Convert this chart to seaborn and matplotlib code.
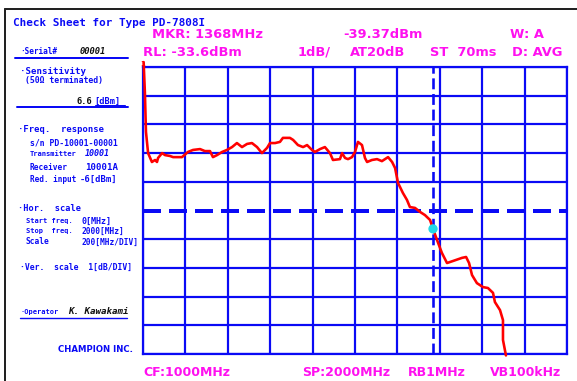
import numpy as np
import matplotlib
matplotlib.use("Agg")
import matplotlib.pyplot as plt
from matplotlib.lines import Line2D
import seaborn as sns

# ---------------- data ----------------
freq_mhz = [3, 9, 14, 24, 42, 57, 66, 71, 90, 104, 127, 142, 165, 184, 212, 236, 269,
            292, 316, 330, 349, 373, 396, 420, 443, 467, 491, 514, 538, 561, 585, 599,
            623, 646, 660, 693, 708, 731, 755, 774, 797, 811, 835, 858, 882, 896, 929,
            939, 953, 967, 986, 1000, 1014, 1033, 1047, 1057, 1080, 1104, 1127, 1156,
            1175, 1189, 1203, 1226, 1245, 1259, 1283, 1307, 1330, 1354, 1368, 1392,
            1410, 1434, 1462, 1505, 1524, 1538, 1552, 1575, 1604, 1627, 1651, 1660,
            1684, 1698, 1698, 1712]
level_dbm = [-33.43, -34.5, -35.86, -36.60, -36.91, -36.84, -36.91, -36.77, -36.60, -36.67,
             -36.70, -36.74, -36.74, -36.74, -36.56, -36.49, -36.46, -36.53, -36.53, -36.74,
             -36.67, -36.56, -36.49, -36.39, -36.25, -36.39, -36.28, -36.25, -36.39, -36.60,
             -36.42, -36.25, -36.25, -36.21, -36.07, -36.07, -36.14, -36.32, -36.39, -36.32,
             -36.49, -36.56, -36.46, -36.39, -36.60, -36.84, -36.81, -36.60, -36.77, -36.81,
             -36.74, -36.56, -36.21, -36.32, -36.77, -36.91, -36.84, -36.81, -36.88, -36.74,
             -36.91, -37.12, -37.64, -37.99, -38.23, -38.48, -38.51, -38.65, -38.76, -38.93,
             -39.24, -39.73, -40.08, -40.43, -40.36, -40.25, -40.22, -40.43, -40.85, -41.13,
             -41.27, -41.30, -41.47, -41.79, -42.07, -42.42, -43.11, -43.65]
marker_freq = [1368]
marker_level = [-39.24]
ref_level = -33.6
db_per_div = 1.0
start_mhz, stop_mhz = 0, 2000

header_top = [("MKR: 1368MHz", 152), ("-39.37dBm", 343), ("W: A", 510)]
header_mid = [("RL: -33.6dBm", 143), ("1dB/", 298), ("AT20dB", 350), ("ST  70ms", 430), ("D: AVG", 512)]
footer = [("CF:1000MHz", 143), ("SP:2000MHz", 302), ("RB1MHz", 408), ("VB100kHz", 490)]

# ---------------- style ----------------
W, H = 577, 381
BLUE = "#0A0AF5"
MAG = "#FF10F0"
sns.set_theme(style="white")
plt.rcParams["font.family"] = ["DejaVu Sans"]

fig = plt.figure(figsize=(W / 100, H / 100), dpi=100)
fig.patch.set_facecolor("white")

def fx(x):
    return x / W

def fy(y):
    return 1 - y / H

ax = fig.add_axes([fx(143), fy(354), fx(567) - fx(143), fy(67) - fy(354)])
ax.set_facecolor("white")
ax.set_xlim(start_mhz, stop_mhz)
ax.set_ylim(ref_level - 10 * db_per_div, ref_level)

px = 0.72  # points per pixel
grid_lw = 2.2 * px
xt = np.linspace(start_mhz, stop_mhz, 11)
yt = [ref_level - i * db_per_div for i in range(11) if i != 5]
ax.set_xticks(xt)
ax.set_yticks(yt)
ax.grid(True, color=BLUE, lw=grid_lw)
ax.tick_params(length=0, labelbottom=False, labelleft=False)
for s in ax.spines.values():
    s.set_color(BLUE)
    s.set_linewidth(grid_lw)

# centre dashed line and marker line
ax.axhline(ref_level - 5 * db_per_div, color=BLUE, lw=4 * px, ls=(0, (4.5, 2.0)))
ax.axvline(marker_freq[0], color=BLUE, lw=2.6 * px, ls=(0, (4.2, 1.8)))

sns.lineplot(x=freq_mhz, y=level_dbm, sort=False, estimator=None, color="#FF0000",
             lw=2.6 * px, ax=ax, clip_on=False, zorder=5)
ax.scatter(marker_freq, marker_level, s=45, color="#22D8E8", zorder=6, edgecolor="none")
fig.text(fx(143), fy(63.5), "1", color="#FF0000", fontsize=4.8, fontweight="bold",
         ha="center", va="center")

# magenta header/footer
for t, x in header_top:
    fig.text(fx(x), fy(35), t, color=MAG, fontsize=9.4, fontweight="bold", va="center", ha="left")
for t, x in header_mid:
    fig.text(fx(x), fy(52), t, color=MAG, fontsize=9.4, fontweight="bold", va="center", ha="left")
for t, x in footer:
    fig.text(fx(x), fy(373), t, color=MAG, fontsize=9.0, fontweight="bold", va="center", ha="left")

# outer border
fig.add_artist(Line2D([fx(5), fx(577)], [fy(9), fy(9)], color="#222222", lw=2 * px))
fig.add_artist(Line2D([fx(5), fx(5)], [fy(9), fy(381)], color="#222222", lw=2 * px))

# left panel
MONO = "DejaVu Sans Mono"
def lt(x, y, s, size=5.9, color=BLUE, ha="left", **kw):
    fig.text(fx(x), fy(y), s, color=color, fontsize=size, fontfamily=MONO,
             fontweight="bold", va="center", ha=ha, **kw)

lt(13, 23, "Check Sheet for Type PD-7808I", size=7.9)
lt(20, 52, "·Serial#", size=5.6)
lt(80, 52, "00001", size=6.3, color="#111111", style="italic")
fig.add_artist(Line2D([fx(15), fx(128)], [fy(58), fy(58)], color=BLUE, lw=2 * px))
lt(20, 71, "·Sensitivity", size=6.6)
lt(25, 80, "(50Ω terminated)", size=5.9)
lt(92, 101, "6.6", size=6.2, color="#111111", ha="right")
lt(94, 101, "[dBm]", size=6.2)
fig.add_artist(Line2D([fx(95), fx(125)], [fy(104.5), fy(104.5)], color=BLUE, lw=1 * px))
fig.add_artist(Line2D([fx(17), fx(128)], [fy(107), fy(107)], color=BLUE, lw=2 * px))

lt(18, 130, "·Freq.  response", size=6.4)
lt(30, 143, "s/n PD-10001-00001", size=5.9)
lt(30, 154, "Transmitter", size=5.1)
lt(85, 154, "10001", size=6.0, style="italic")
lt(30, 167, "Receiver", size=5.7)
lt(85, 167, "10001A", size=6.6)
lt(30, 179, "Red. input", size=5.6)
lt(80, 179, "-6[dBm]", size=6.4)

lt(18, 209, "·Hor.  scale", size=6.2)
lt(26, 221, "Start freq.", size=5.0)
lt(82, 221, "0[MHz]", size=6.0)
lt(26, 231, "Stop  freq.", size=5.0)
lt(82, 231, "2000[MHz]", size=5.7)
lt(26, 242, "Scale", size=5.7)
lt(82, 242, "200[MHz/DIV]", size=5.7)

lt(20, 267, "·Ver.  scale  1[dB/DIV]", size=5.9)
lt(20, 312, "·Operator", size=5.0)
lt(68, 312, "K. Kawakami", size=6.6, color="#111111", style="italic")
fig.add_artist(Line2D([fx(20), fx(127)], [fy(317.5), fy(317.5)], color=BLUE, lw=1.4 * px))
fig.text(fx(133), fy(349), "CHAMPION INC.", color=BLUE, fontsize=6.8, fontweight="bold",
         va="center", ha="right", fontstretch="condensed")

fig.savefig("out.png", dpi=100, facecolor="white")
